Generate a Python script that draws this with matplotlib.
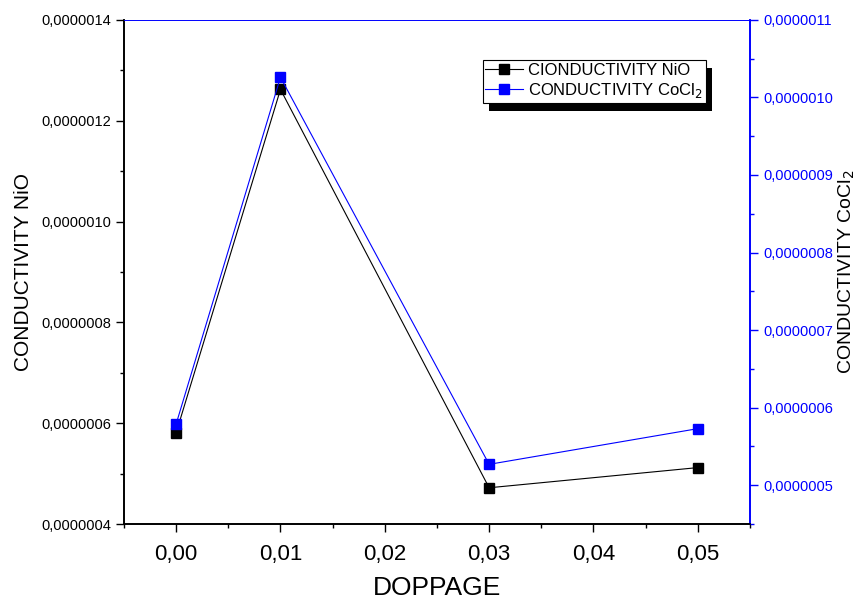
import numpy as np
import matplotlib
matplotlib.use("Agg")
import matplotlib.pyplot as plt
from matplotlib.ticker import MultipleLocator, FuncFormatter
from matplotlib.patches import Rectangle

plt.rcParams['font.family'] = ['Liberation Sans', 'DejaVu Sans']

# datos
doppage = [0.00, 0.01, 0.03, 0.05]
cond_nio = [5.81e-7, 1.262e-6, 4.72e-7, 5.12e-7]
cond_cocl2 = [5.79e-7, 1.026e-6, 5.27e-7, 5.73e-7]
label_nio = "CIONDUCTIVITY NiO"
label_cocl2 = "CONDUCTIVITY CoCl$_2$"

def coma(d):
    return FuncFormatter(lambda v, p: f"{v:.{d}f}".replace('.', ','))

fig = plt.figure(figsize=(8.61, 6.01), dpi=100)
ax = fig.add_axes([0.144, 0.128, 0.727, 0.839])
ax2 = ax.twinx()

l1, = ax.plot(doppage, cond_nio, color='black', lw=0.8, marker='s', ms=7,
              label=label_nio)
l2, = ax2.plot(doppage, cond_cocl2, color='blue', lw=0.8, marker='s', ms=7,
               label=label_cocl2)

ax.set_xlim(-0.005, 0.055)
ax.set_ylim(4e-7, 1.4e-6)
ax2.set_ylim(4.5e-7, 1.1e-6)

ax.xaxis.set_major_locator(MultipleLocator(0.01))
ax.xaxis.set_minor_locator(MultipleLocator(0.005))
ax.yaxis.set_major_locator(MultipleLocator(2e-7))
ax.yaxis.set_minor_locator(MultipleLocator(1e-7))
ax2.yaxis.set_major_locator(MultipleLocator(1e-7))
ax2.yaxis.set_minor_locator(MultipleLocator(0.5e-7))
ax.xaxis.set_major_formatter(coma(2))
ax.yaxis.set_major_formatter(coma(7))
ax2.yaxis.set_major_formatter(coma(7))

ax.tick_params(axis='x', which='major', length=6, width=1, labelsize=16, pad=8)
ax.tick_params(axis='x', which='minor', length=3, width=1)
ax.tick_params(axis='y', which='major', length=6, width=1, labelsize=10.5)
ax.tick_params(axis='y', which='minor', length=3, width=1)
ax2.tick_params(axis='y', which='major', length=6, width=1, labelsize=10.5,
                colors='blue')
ax2.tick_params(axis='y', which='minor', length=3, width=1, colors='blue')

for a in (ax, ax2):
    a.spines['left'].set_color('black')
    a.spines['bottom'].set_color('black')
    a.spines['right'].set_color('blue')
    a.spines['top'].set_color('blue')
    for s in a.spines.values():
        s.set_linewidth(1.2)
    a.spines['top'].set_linewidth(0.6)

ax.set_xlabel("DOPPAGE", fontsize=19, labelpad=8)
ax.set_ylabel("CONDUCTIVITY NiO", fontsize=15, labelpad=6)
ax2.set_ylabel("CONDUCTIVITY CoCl$_2$", fontsize=14, labelpad=3)

leg = ax2.legend(handles=[l1, l2], loc='upper left',
                 bbox_to_anchor=(0.573, 0.92), fontsize=12, frameon=True,
                 fancybox=False, edgecolor='black', framealpha=1,
                 borderpad=0.15, handlelength=2.3, handletextpad=0.3,
                 labelspacing=0.2, borderaxespad=0)
leg.get_frame().set_linewidth(0.8)
leg.set_zorder(10)

# sombra negra de la leyenda
fig.canvas.draw()
bb = leg.get_window_extent().transformed(fig.transFigure.inverted())
dx, dy = 6 / 861, 8 / 601
sombra = Rectangle((bb.x0 + dx, bb.y0 - dy), bb.width, bb.height,
                   transform=fig.transFigure, facecolor='black',
                   edgecolor='none', zorder=9)
ax2.add_artist(sombra)
sombra.set_transform(fig.transFigure)

fig.savefig("out.png", dpi=100)
